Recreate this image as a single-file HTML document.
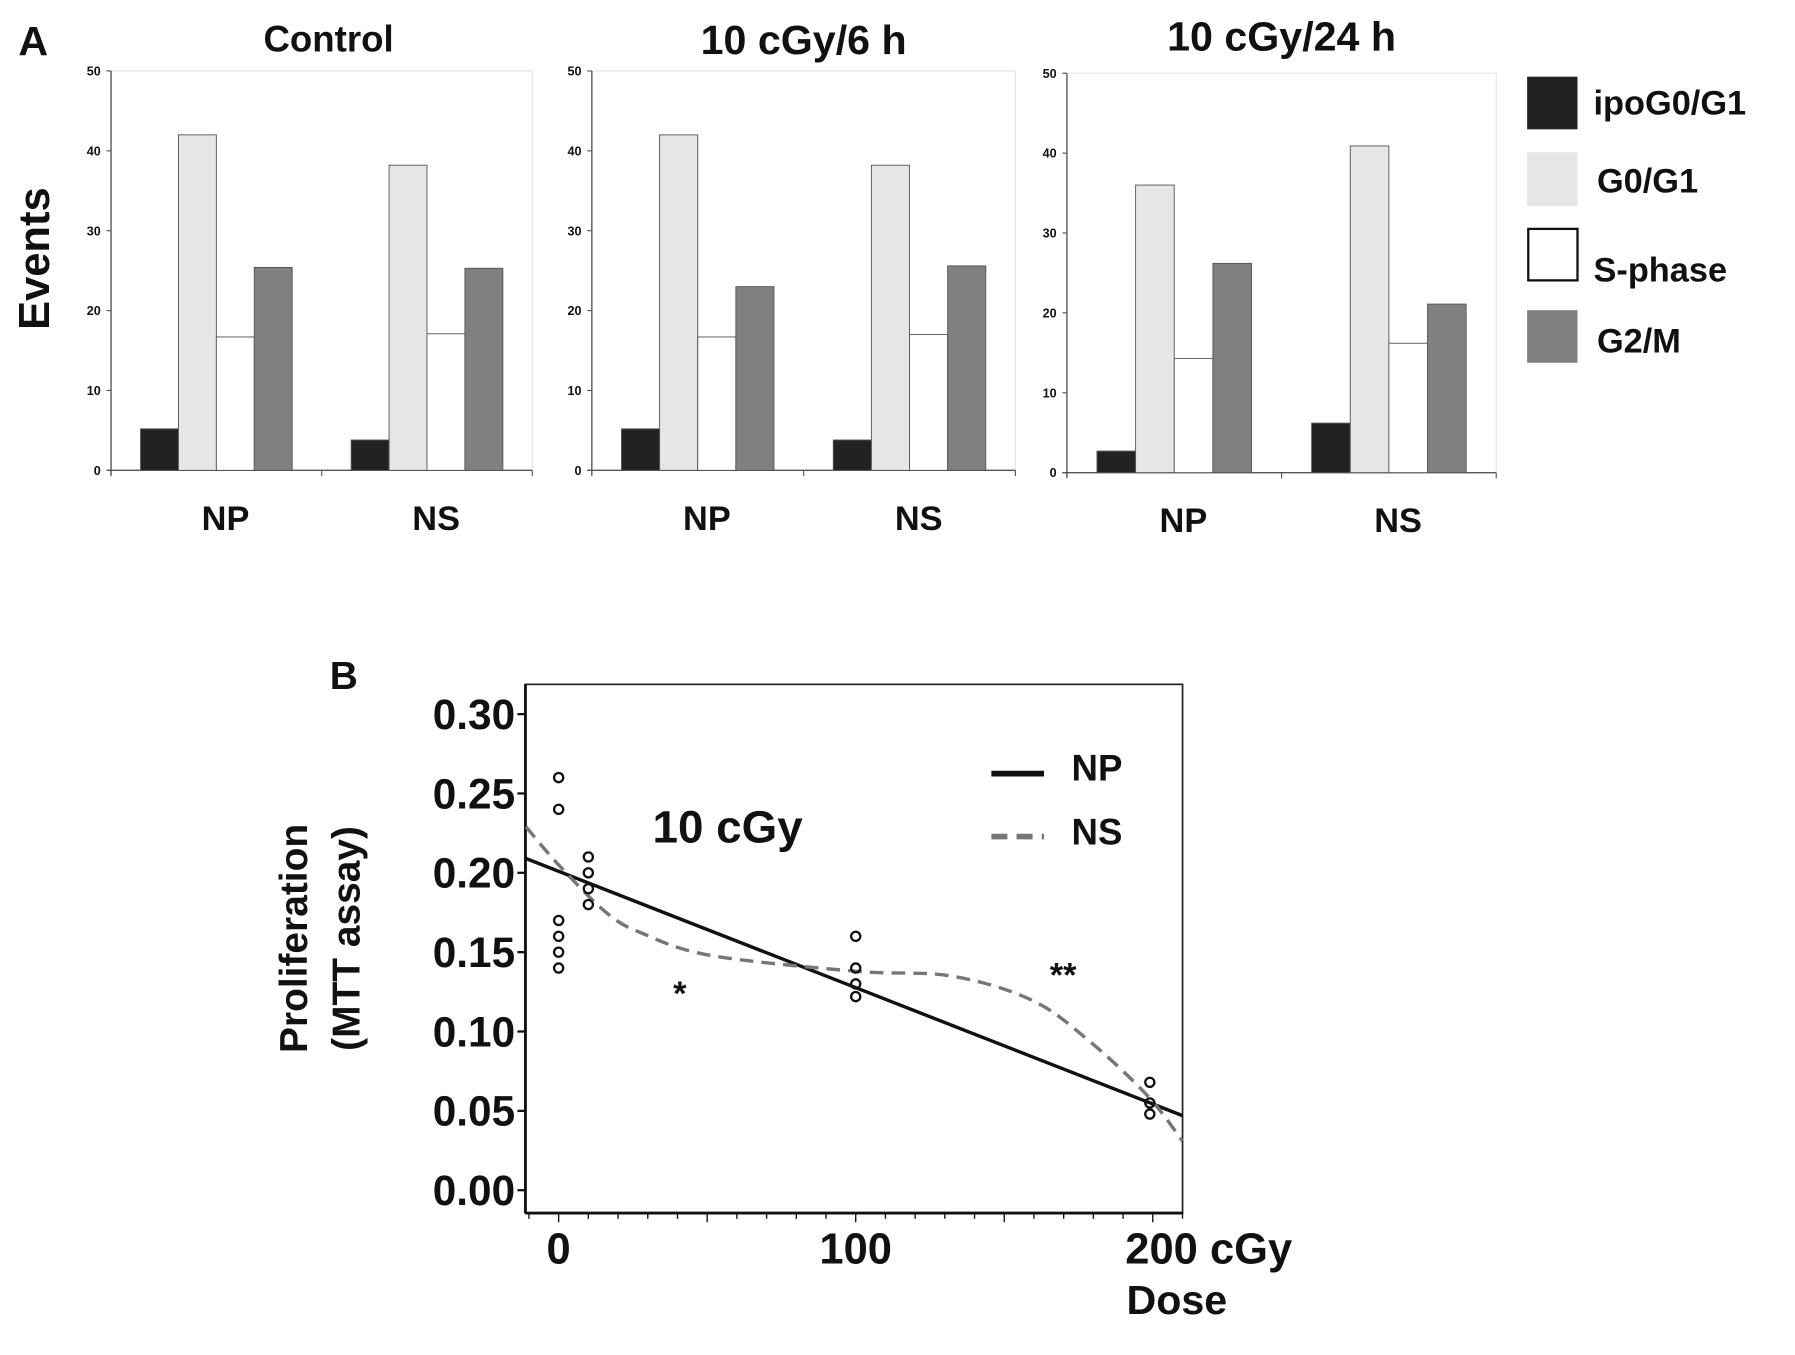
<!DOCTYPE html>
<html><head><meta charset="utf-8"><style>
html,body{margin:0;padding:0;background:#fff}
svg{display:block}
text{font-family:"Liberation Sans",sans-serif;font-weight:bold;fill:#111}
</style></head><body>
<svg id="fig" width="1795" height="1355" viewBox="0 0 1568 1184" preserveAspectRatio="none">
<text x="16" y="48" font-size="36">A</text>
<text transform="translate(43,226) rotate(-90)" text-anchor="middle" font-size="38">Events</text>
<g id="bars"></g>
<g>
<rect x="1334" y="67" width="44" height="46" fill="#222"/>
<text x="1392" y="100" font-size="30">ipoG0/G1</text>
<rect x="1334" y="133" width="44" height="47" fill="#e6e6e6"/>
<text x="1395" y="168" font-size="30">G0/G1</text>
<rect x="1335" y="200" width="43" height="45" fill="#fff" stroke="#111" stroke-width="2"/>
<text x="1392" y="246" font-size="30">S-phase</text>
<rect x="1334" y="271" width="44" height="46" fill="#808080"/>
<text x="1395" y="308" font-size="30">G2/M</text>
</g>
<text x="288" y="602" font-size="34">B</text>
<g id="lineplot"></g>
</svg>
<script>
const NS_="http://www.w3.org/2000/svg";
function mk(p,t,a){const e=document.createElementNS(NS_,t);for(const k in a)e.setAttribute(k,a[k]);p.appendChild(e);return e;}
// ---- Panel A data ----
const panelTitles=["Control","10 cGy/6 h","10 cGy/24 h"];
const groups=["NP","NS"];
const phases=["ipoG0/G1","G0/G1","S-phase","G2/M"];
const ctrlNP=[5.2,42,16.7,25.4];
const ctrlNS=[3.8,38.2,17.1,25.3];
const h6NP=[5.2,42,16.7,23];
const h6NS=[3.8,38.2,17,25.6];
const h24NP=[2.7,36,14.3,26.2];
const h24NS=[6.2,40.9,16.2,21.1];
const yTicksA=[0,10,20,30,40,50];
const panelVals=[[ctrlNP,ctrlNS],[h6NP,h6NS],[h24NP,h24NS]];
const fills=["#222","#e6e6e6","#fff","#808080"];
const panels=[{x0:97,x1:465,top:62,bot:411,ty:33},{x0:517,x1:887,top:62,bot:411,ty:35},{x0:932,x1:1307,top:64,bot:413,ty:32}];
const bars=document.getElementById('bars');
panels.forEach((P,pi)=>{
  const g=mk(bars,'g',{});
  
  
  const y=v=>P.bot-(v/50)*(P.bot-P.top);
  const w=P.x1-P.x0;
  const fr=mk(g,'rect',{x:P.x0,y:P.top,width:w,height:P.bot-P.top,fill:'none',stroke:'#e4e4e4','stroke-width':1});
  
  
  mk(g,'line',{x1:P.x0,y1:P.top,x2:P.x0,y2:P.bot+4,stroke:'#555','stroke-width':1.2});
  mk(g,'line',{x1:P.x0-4,y1:P.bot,x2:P.x1,y2:P.bot,stroke:'#555','stroke-width':1.2});
  yTicksA.forEach(t=>{
    mk(g,'line',{x1:P.x0-4,y1:y(t),x2:P.x0,y2:y(t),stroke:'#555'});
    const tx=mk(g,'text',{x:P.x0-9,y:y(t)+4,'font-size':11,'text-anchor':'end'});tx.textContent=t;
    
    
  });
  const gw=w/2;
  [0,1,2].forEach(i=>mk(g,'line',{x1:P.x0+gw*i,y1:P.bot,x2:P.x0+gw*i,y2:P.bot+5,stroke:'#555'}));
  const tt=mk(g,'text',{x:(P.x0+P.x1)/2+(pi?0:6),y:P.ty+12,'font-size':pi?36:32,'text-anchor':'middle'});
  tt.textContent=panelTitles[pi];
  
  
  groups.forEach((gn,gi)=>{
    const bx=P.x0+gw*gi+gw*0.14;const bw=gw*0.18;
    panelVals[pi][gi].forEach((v,k)=>{
      const r=mk(g,'rect',{x:bx+k*bw,y:y(v),width:bw,height:P.bot-y(v),fill:fills[k],stroke:'#555','stroke-width':0.8});
      
      
    });
    const lb=mk(g,'text',{x:P.x0+gw*gi+gw/2+8,y:P.bot+52,'font-size':30,'text-anchor':'middle'});
    lb.textContent=gn;
    
    
  });
});
// ---- Panel B data ----
const yTicksB=[0,0.05,0.10,0.15,0.20,0.25,0.30];
const xTicksB=[0,100,200];
const npLineX=[-11,210];
const npLineY=[0.209,0.047];
const nsX=[-11,0,16,28,51,100,132,159,178,198,210];
const nsY=[0.229,0.205,0.175,0.162,0.148,0.138,0.135,0.120,0.095,0.060,0.031];
const ptX=[0,0,0,0,0,0,10,10,10,10,100,100,100,100,199,199,199];
const ptY=[0.26,0.24,0.17,0.16,0.15,0.14,0.21,0.20,0.19,0.18,0.16,0.14,0.13,0.122,0.068,0.055,0.048];
const lp=document.getElementById('lineplot');
const X=d=>488+d*2.595, Y=v=>1040-v*(416/0.30);
const fr=mk(lp,'rect',{x:459,y:598,width:574,height:462,fill:'none',stroke:'#222','stroke-width':1.5});


mk(lp,'line',{x1:459,y1:598,x2:459,y2:1060,stroke:'#111','stroke-width':2.5});
mk(lp,'line',{x1:459,y1:1060,x2:1033,y2:1060,stroke:'#111','stroke-width':2.5});
yTicksB.forEach(t=>{
  mk(lp,'line',{x1:452,y1:Y(t),x2:459,y2:Y(t),stroke:'#111','stroke-width':2});
  const tx=mk(lp,'text',{x:450,y:Y(t)+13,'font-size':37,'text-anchor':'end'});tx.textContent=t.toFixed(2);
  
  
});
for(let d=-10;d<=210;d+=10){mk(lp,'line',{x1:X(d),y1:1060,x2:X(d),y2:d%50===0?1068:1065,stroke:'#111','stroke-width':1.2});}
xTicksB.forEach(t=>{
  const tx=mk(lp,'text',{x:X(t),y:1104,'font-size':38,'text-anchor':t==200?'start':'middle'});
  if(t==200){tx.setAttribute('x',X(t)-24);tx.textContent='200 cGy';}else tx.textContent=t;
  
  
});
let t=mk(lp,'text',{x:984,y:1148,'font-size':36});t.textContent='Dose';


t=mk(lp,'text',{transform:'translate(268,820) rotate(-90)','text-anchor':'middle','font-size':34});t.textContent='Proliferation';


t=mk(lp,'text',{transform:'translate(314,820) rotate(-90)','text-anchor':'middle','font-size':34});t.textContent='(MTT assay)';


const np=mk(lp,'polyline',{points:npLineX.map((d,i)=>X(d)+','+Y(npLineY[i])).join(' '),fill:'none',stroke:'#111','stroke-width':3});


let dpath='M'+X(nsX[0])+','+Y(nsY[0]);
for(let i=1;i<nsX.length;i++){
  const p0=[X(nsX[Math.max(i-2,0)]),Y(nsY[Math.max(i-2,0)])],p1=[X(nsX[i-1]),Y(nsY[i-1])],p2=[X(nsX[i]),Y(nsY[i])],p3=[X(nsX[Math.min(i+1,nsX.length-1)]),Y(nsY[Math.min(i+1,nsX.length-1)])];
  dpath+=' C'+(p1[0]+(p2[0]-p0[0])/6)+','+(p1[1]+(p2[1]-p0[1])/6)+' '+(p2[0]-(p3[0]-p1[0])/6)+','+(p2[1]-(p3[1]-p1[1])/6)+' '+p2[0]+','+p2[1];
}
const ns=mk(lp,'path',{d:dpath,fill:'none',stroke:'#777','stroke-width':3,'stroke-dasharray':'12,7'});


ptX.forEach((d,i)=>{
  const c=mk(lp,'circle',{cx:X(d),cy:Y(ptY[i]),r:4,fill:'none',stroke:'#111','stroke-width':2});
  
  
});
mk(lp,'line',{x1:866,y1:676,x2:912,y2:676,stroke:'#111','stroke-width':5});
mk(lp,'line',{x1:866,y1:731,x2:912,y2:731,stroke:'#777','stroke-width':5,'stroke-dasharray':'14,8'});
t=mk(lp,'text',{x:936,y:682,'font-size':32});t.textContent='NP';


t=mk(lp,'text',{x:936,y:738,'font-size':32});t.textContent='NS';


t=mk(lp,'text',{x:570,y:736,'font-size':40});t.textContent='10 cGy';


t=mk(lp,'text',{x:588,y:878,'font-size':30,'font-weight':'normal'});t.textContent='*';


t=mk(lp,'text',{x:917,y:862,'font-size':30,'font-weight':'normal'});t.textContent='**';


</script>
</body></html>
